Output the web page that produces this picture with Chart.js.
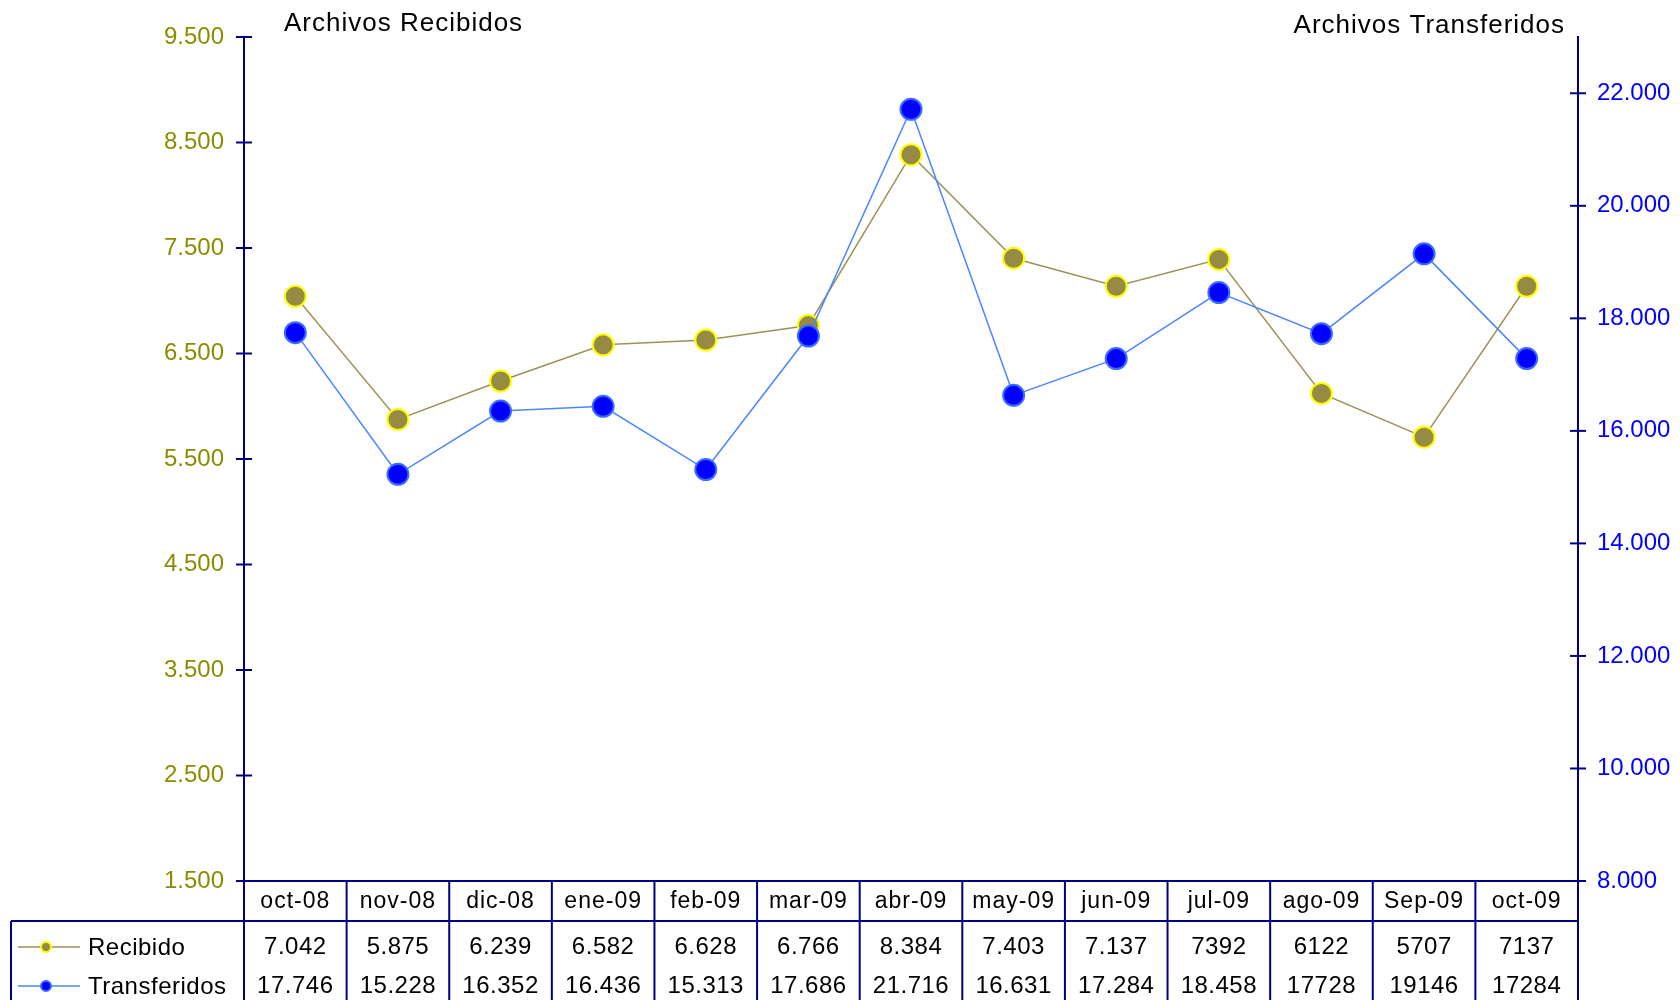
<!DOCTYPE html>
<html>
<head>
<meta charset="utf-8">
<script src="https://cdn.jsdelivr.net/npm/chart.js@4"></script>
<style>
html,body{margin:0;padding:0;background:#fff;}
#wrap{width:1680px;height:1000px;position:relative;}
canvas{display:block;}
</style>
</head>
<body>
<div id="wrap"><canvas id="c" width="1680" height="1000"></canvas></div>
<script>
// ---- data ----
const categories = ['oct-08','nov-08','dic-08','ene-09','feb-09','mar-09','abr-09','may-09','jun-09','jul-09','ago-09','Sep-09','oct-09'];
const recibidoValues = [7042, 5875, 6239, 6582, 6628, 6766, 8384, 7403, 7137, 7392, 6122, 5707, 7137];
const transferidosValues = [17746, 15228, 16352, 16436, 15313, 17686, 21716, 16631, 17284, 18458, 17728, 19146, 17284];
const recibidoLabels = ['7.042','5.875','6.239','6.582','6.628','6.766','8.384','7.403','7.137','7392','6122','5707','7137'];
const transferidosLabels = ['17.746','15.228','16.352','16.436','15.313','17.686','21.716','16.631','17.284','18.458','17728','19146','17284'];
const seriesNames = ['Recibido','Transferidos'];
const axisTitles = ['Archivos Recibidos','Archivos Transferidos'];
const leftTickValues = [1500, 2500, 3500, 4500, 5500, 6500, 7500, 8500, 9500];
const leftTickLabels = ['1.500','2.500','3.500','4.500','5.500','6.500','7.500','8.500','9.500'];
const rightTickValues = [8000, 10000, 12000, 14000, 16000, 18000, 20000, 22000];
const rightTickLabels = ['8.000','10.000','12.000','14.000','16.000','18.000','20.000','22.000'];

const NAVY = '#000080';
const FONT = '"Liberation Sans", Arial, sans-serif';
const OLIVE_TXT = '#8C8C00';
const REC_LINE = '#9C9257', REC_FILL = '#958B45', REC_BORDER = '#FFFF00';
const TR_LINE = '#4A86FF', TR_FILL = '#0000FF', TR_BORDER = '#3A6CFF';

const tablePlugin = {
  id: 'tablePlugin',
  afterDraw(chart) {
    const ctx = chart.ctx;
    const ca = chart.chartArea;
    const xs = chart.scales.x, yl = chart.scales.y, yr = chart.scales.y1;
    const H = chart.height;
    ctx.save();
    ctx.strokeStyle = NAVY;
    ctx.lineWidth = 2;
    // crossing ticks
    yl.ticks.forEach((t) => {
      const y = yl.getPixelForValue(t.value);
      ctx.beginPath(); ctx.moveTo(ca.left - 8, y); ctx.lineTo(ca.left + 8, y); ctx.stroke();
    });
    yr.ticks.forEach((t) => {
      const y = yr.getPixelForValue(t.value);
      ctx.beginPath(); ctx.moveTo(ca.right - 8, y); ctx.lineTo(ca.right + 8, y); ctx.stroke();
    });
    // table geometry
    const rowTop = ca.bottom;
    const catRowBottom = rowTop + 40;
    const tableLeft = 11;
    const n = categories.length;
    const bounds = [];
    for (let i = 0; i <= n; i++) {
      if (i === 0) bounds.push(ca.left);
      else if (i === n) bounds.push(ca.right);
      else bounds.push((xs.getPixelForValue(i - 1) + xs.getPixelForValue(i)) / 2);
    }
    bounds.forEach((x) => {
      ctx.beginPath(); ctx.moveTo(x, rowTop); ctx.lineTo(x, H); ctx.stroke();
    });
    ctx.beginPath(); ctx.moveTo(tableLeft, catRowBottom); ctx.lineTo(ca.right, catRowBottom); ctx.stroke();
    ctx.beginPath(); ctx.moveTo(tableLeft, catRowBottom); ctx.lineTo(tableLeft, H); ctx.stroke();

    // texts
    ctx.fillStyle = '#000';
    ctx.textAlign = 'center';
    ctx.textBaseline = 'middle';
    const row1 = catRowBottom + 26, row2 = catRowBottom + 65;
    categories.forEach((c, i) => {
      const x = xs.getPixelForValue(i);
      ctx.font = '23px ' + FONT;
      ctx.letterSpacing = '1px';
      ctx.fillText(c, x, rowTop + 21);
      ctx.letterSpacing = '0.5px';
      ctx.font = '24px ' + FONT;
      ctx.fillText(recibidoLabels[i], x, row1);
      ctx.fillText(transferidosLabels[i], x, row2);
    });
    // legend
    const legend = [
      {name: seriesNames[0], y: row1, line: REC_LINE, fill: REC_FILL, border: REC_BORDER},
      {name: seriesNames[1], y: row2, line: TR_LINE, fill: TR_FILL, border: TR_BORDER}
    ];
    ctx.font = '24px ' + FONT;
    legend.forEach((l) => {
      ctx.strokeStyle = l.line; ctx.lineWidth = 1.5;
      ctx.beginPath(); ctx.moveTo(18, l.y); ctx.lineTo(80, l.y); ctx.stroke();
      ctx.beginPath(); ctx.arc(46, l.y, 5, 0, Math.PI * 2);
      ctx.fillStyle = l.fill; ctx.fill();
      ctx.strokeStyle = l.border; ctx.lineWidth = 2; ctx.stroke();
      ctx.fillStyle = '#000';
      ctx.textAlign = 'left';
      ctx.fillText(l.name, 88, l.y + 1);
    });
    // axis titles
    ctx.font = '26px ' + FONT;
    ctx.letterSpacing = '1px';
    ctx.textAlign = 'left';
    ctx.fillText(axisTitles[0], 284, 24);
    ctx.textAlign = 'right';
    ctx.fillText(axisTitles[1], 1565, 26);
    ctx.restore();
  }
};

new Chart(document.getElementById('c'), {
  type: 'line',
  data: {
    labels: categories,
    datasets: [
      {
        label: seriesNames[1],
        data: transferidosValues,
        yAxisID: 'y1',
        borderColor: TR_LINE,
        borderWidth: 1.5,
        pointRadius: 10.5,
        pointBackgroundColor: TR_FILL,
        pointBorderColor: TR_BORDER,
        pointBorderWidth: 2,
        tension: 0,
        fill: false
      },
      {
        label: seriesNames[0],
        data: recibidoValues,
        yAxisID: 'y',
        borderColor: REC_LINE,
        borderWidth: 1.5,
        pointRadius: 10.5,
        pointBackgroundColor: REC_FILL,
        pointBorderColor: REC_BORDER,
        pointBorderWidth: 2,
        tension: 0,
        fill: false
      }
    ]
  },
  options: {
    responsive: false,
    devicePixelRatio: 1,
    animation: false,
    layout: {padding: {top: 37, left: 0, right: 0, bottom: 0}},
    plugins: {legend: {display: false}, tooltip: {enabled: false}},
    scales: {
      x: {
        type: 'category',
        offset: true,
        grid: {display: false, drawTicks: false},
        border: {display: true, color: NAVY, width: 2},
        ticks: {display: false},
        afterFit(s) { s.height = 119; }
      },
      y: {
        position: 'left',
        min: 1500, max: 9500,
        bounds: 'data',
        afterBuildTicks(s) { s.ticks = leftTickValues.map((v) => ({value: v})); },
        ticks: {
          color: OLIVE_TXT,
          font: {family: FONT, size: 24},
          padding: 20,
          callback: (v, i) => leftTickLabels[i]
        },
        grid: {display: false, drawTicks: false},
        border: {display: true, color: NAVY, width: 2},
        afterFit(s) { s.width = 244; }
      },
      y1: {
        position: 'right',
        min: 8000, max: 23000,
        bounds: 'data',
        afterBuildTicks(s) { s.ticks = rightTickValues.map((v) => ({value: v})); },
        ticks: {
          color: '#0000FF',
          font: {family: FONT, size: 24},
          padding: 19,
          callback: (v, i) => rightTickLabels[i]
        },
        grid: {display: false, drawTicks: false},
        border: {display: true, color: NAVY, width: 2},
        afterFit(s) { s.width = 102; }
      }
    }
  },
  plugins: [tablePlugin]
});
</script>
</body>
</html>
